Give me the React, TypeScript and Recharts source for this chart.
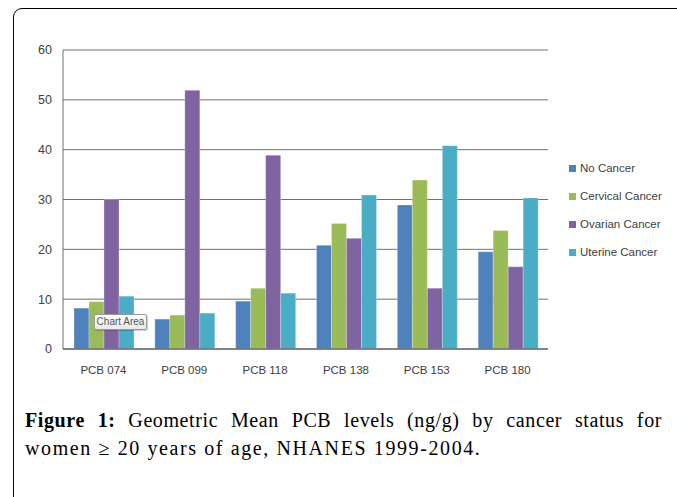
import { BarChart, Bar, XAxis, YAxis, CartesianGrid } from 'recharts';

const categories = ['PCB 074', 'PCB 099', 'PCB 118', 'PCB 138', 'PCB 153', 'PCB 180'];
const noCancer = [8.2, 6.0, 9.6, 20.8, 28.9, 19.5];
const cervicalCancer = [9.5, 6.8, 12.2, 25.2, 33.9, 23.8];
const ovarianCancer = [30.0, 51.9, 38.9, 22.2, 12.2, 16.5];
const uterineCancer = [10.6, 7.2, 11.2, 30.9, 40.8, 30.3];
const yTicks = [0, 10, 20, 30, 40, 50, 60];

const series = [
  { key: 'noCancer', name: 'No Cancer', color: '#4F81BD' },
  { key: 'cervical', name: 'Cervical Cancer', color: '#9BBB59' },
  { key: 'ovarian', name: 'Ovarian Cancer', color: '#8064A2' },
  { key: 'uterine', name: 'Uterine Cancer', color: '#4BACC6' },
];

const data = categories.map((c, i) => ({
  name: c,
  noCancer: noCancer[i],
  cervical: cervicalCancer[i],
  ovarian: ovarianCancer[i],
  uterine: uterineCancer[i],
}));

const FONT = '"Liberation Sans", Arial, sans-serif';
const SERIF = '"Liberation Serif", "Times New Roman", serif';

// legend drawn outside the chart so it doesn't eat into the plot area
const ChartLegend = () => (
  <div style={{ position: 'absolute', left: 569, top: 154, fontFamily: FONT, fontSize: 11.5, color: '#404040' }}>
    {series.map(s => (
      <div key={s.key} style={{ display: 'flex', alignItems: 'center', height: 28 }}>
        <span style={{ display: 'inline-block', width: 7, height: 7, background: s.color, marginRight: 4 }} />
        <span>{s.name}</span>
      </div>
    ))}
  </div>
);

export default function App() {
  return (
    <div style={{ position: 'absolute', left: 0, top: 0, width: 677, height: 497, overflow: 'hidden', background: '#fff' }}>
      <div
        style={{
          position: 'absolute',
          left: 13,
          top: 8,
          width: 720,
          height: 540,
          border: '1.5px solid #000',
          borderRadius: 9,
          boxSizing: 'border-box',
        }}
      />
      <div style={{ position: 'absolute', left: 0, top: 0 }}>
        <BarChart
          width={677}
          height={400}
          data={data}
          margin={{ top: 50, right: 129, left: 33, bottom: 21 }}
          barGap={0}
          barCategoryGap={11}
        >
          <CartesianGrid vertical={false} stroke="#707070" strokeWidth={1} />
          <XAxis
            dataKey="name"
            height={30}
            tickSize={0}
            tickMargin={17}
            stroke="#707070"
            strokeWidth={1.6}
            tick={{ fill: '#404040', fontSize: 11.5, fontFamily: FONT }}
          />
          <YAxis
            width={30}
            domain={[0, 60]}
            ticks={yTicks}
            tickSize={0}
            tickMargin={11}
            stroke="#707070"
            tick={{ fill: '#404040', fontSize: 12.5, fontFamily: FONT }}
          />
          {series.map(s => (
            <Bar
              key={s.key}
              dataKey={s.key}
              name={s.name}
              fill={s.color}
              stroke="#ffffff"
              strokeOpacity={0.5}
              strokeWidth={0.5}
              isAnimationActive={false}
            />
          ))}
        </BarChart>
      </div>
      <ChartLegend />
      <div
        style={{
          position: 'absolute',
          left: 94,
          top: 314,
          width: 53,
          height: 16,
          boxSizing: 'border-box',
          border: '1px solid #9a9a9a',
          borderRadius: 2,
          background: 'linear-gradient(#ffffff, #e8e8e8)',
          fontFamily: FONT,
          fontSize: 10,
          color: '#555',
          lineHeight: '14px',
          textAlign: 'center',
          boxShadow: '1px 1px 1px rgba(0,0,0,0.2)',
        }}
      >
        Chart Area
      </div>
      <div
        style={{
          position: 'absolute',
          left: 25,
          top: 406,
          width: 637,
          fontFamily: SERIF,
          fontSize: 20,
          lineHeight: '28px',
          color: '#000',
          letterSpacing: 1.6,
        }}
      >
        <div style={{ textAlign: 'justify', textAlignLast: 'justify', whiteSpace: 'nowrap', letterSpacing: 0.6 }}>
          <b>Figure 1:</b> Geometric Mean PCB levels (ng/g) by cancer status for
        </div>
        <div>women ≥ 20 years of age, NHANES 1999-2004.</div>
      </div>
    </div>
  );
}
